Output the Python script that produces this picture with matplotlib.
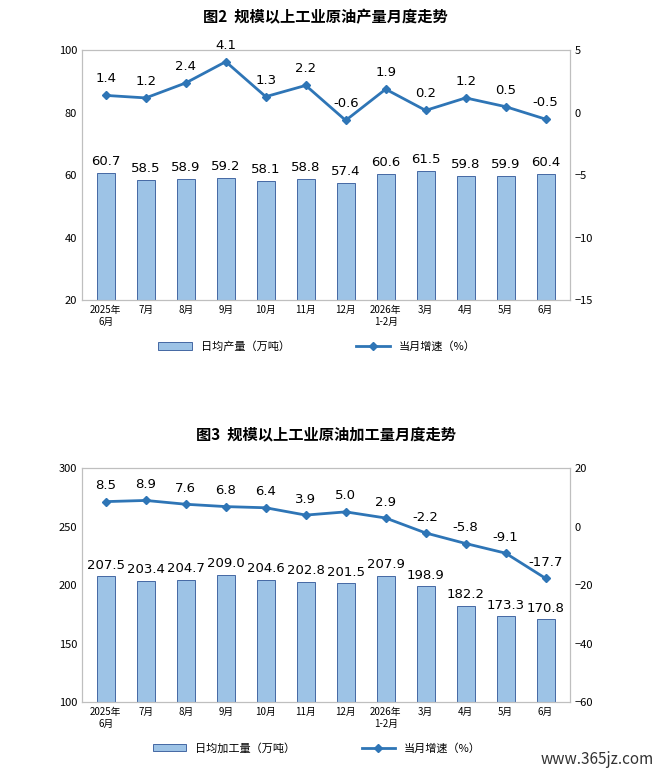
"""Draw the monthly crude oil output and processing charts."""
import matplotlib.pyplot as plt

MONTHS = ["2025年\n6月", "7月", "8月", "9月", "10月", "11月", "12月",
          "2026年\n1-2月", "3月", "4月", "5月", "6月"]
OUTPUT = [60.7, 58.5, 58.9, 59.2, 58.1, 58.8, 57.4, 60.6, 61.5, 59.8, 59.9, 60.4]
OUTPUT_GROWTH = [1.4, 1.2, 2.4, 4.1, 1.3, 2.2, -0.6, 1.9, 0.2, 1.2, 0.5, -0.5]
PROCESS = [207.5, 203.4, 204.7, 209.0, 204.6, 202.8, 201.5, 207.9, 198.9, 182.2, 173.3, 170.8]
PROCESS_GROWTH = [8.5, 8.9, 7.6, 6.8, 6.4, 3.9, 5.0, 2.9, -2.2, -5.8, -9.1, -17.7]

BAR_COLOR = "#9DC3E6"
EDGE_COLOR = "#2F5597"
LINE_COLOR = "#2E75B6"

plt.rcParams["font.family"] = ["Noto Sans CJK SC", "DejaVu Sans"]


def draw_panel(fig, rect, title, bars, growth, left_lim, left_step, right_lim, right_step,
               bar_label, legend_y):
    ax = fig.add_axes(rect)
    x = range(len(MONTHS))
    b = ax.bar(x, bars, width=0.45, color=BAR_COLOR, edgecolor=EDGE_COLOR, linewidth=0.6,
               label=bar_label)
    ax.set_ylim(*left_lim)
    ax.set_yticks(range(left_lim[0], left_lim[1] + 1, left_step))
    ax.set_xlim(-0.6, len(MONTHS) - 0.4)
    ax.set_xticks(list(x))
    ax.set_xticklabels(MONTHS, fontsize=7, linespacing=1.2)
    ax.tick_params(axis="y", labelsize=8, length=0)
    ax.tick_params(axis="x", length=0)
    for i, v in enumerate(bars):
        ax.text(i, v + (left_lim[1] - left_lim[0]) * 0.02, f"{v:.1f}", ha="center",
                va="bottom", fontsize=9.5, family="DejaVu Sans")

    ax2 = ax.twinx()
    ln, = ax2.plot(list(x), growth, color=LINE_COLOR, marker="D", markersize=4,
                   linewidth=2, label="当月增速（%）")
    ax2.set_ylim(*right_lim)
    ax2.set_yticks(range(right_lim[0], right_lim[1] + 1, right_step))
    ax2.tick_params(axis="y", labelsize=8, length=0)
    for i, v in enumerate(growth):
        ax2.text(i, v + (right_lim[1] - right_lim[0]) * 0.04, f"{v:.1f}", ha="center",
                 va="bottom", fontsize=9.5, family="DejaVu Sans")
    for a in (ax, ax2):
        for s in a.spines.values():
            s.set_color("#BFBFBF")
    ax.set_title(title, fontsize=11, fontweight="bold", pad=20)
    fig.legend(handles=[b, ln], loc="center", bbox_to_anchor=(0.48, legend_y), ncol=2,
               frameon=False, fontsize=8, columnspacing=6, handlelength=3)


def main():
    fig = plt.figure(figsize=(6.6, 7.76), dpi=100)
    draw_panel(fig, [0.124, 0.613, 0.739, 0.322], "图2  规模以上工业原油产量月度走势",
               OUTPUT, OUTPUT_GROWTH, (20, 100), 20, (-15, 5), 5, "日均产量（万吨）", 0.553)
    draw_panel(fig, [0.124, 0.095, 0.739, 0.302], "图3  规模以上工业原油加工量月度走势",
               PROCESS, PROCESS_GROWTH, (100, 300), 50, (-60, 20), 20,
               "日均加工量（万吨）", 0.036)
    fig.text(0.99, 0.01, "www.365jz.com", ha="right", va="bottom", fontsize=11,
             color="#333333", style="italic")
    fig.savefig("out.png", dpi=100)
    plt.close(fig)


if __name__ == "__main__":
    main()
